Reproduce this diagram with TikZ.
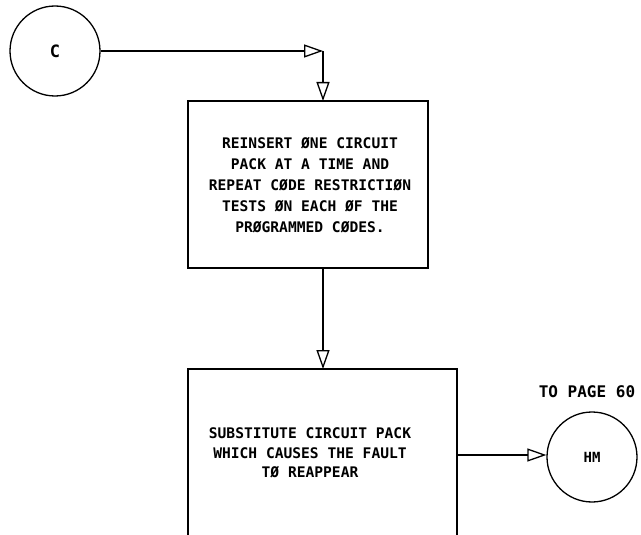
\documentclass[tikz,border=0pt]{standalone}
\usepackage{fontspec}
\setmainfont{DejaVu Sans Mono}
\usetikzlibrary{arrows.meta}
\begin{document}
\begin{tikzpicture}[x=1pt,y=-1pt,
  line width=1.3pt,
  flow/.style={draw, -{Triangle[open,length=19pt,width=13pt,line width=1.3pt]}},
  conn/.style={draw, circle, minimum size=90pt, inner sep=0pt, font=\bfseries\fontsize{14}{16}\selectfont},
  txt/.style={align=center, font=\bfseries\fontsize{14.6}{21}\selectfont},
  box/.style={draw}]
\useasboundingbox (0,0) rectangle (641,535);
\clip (0,0) rectangle (641,535);
\node[conn, font=\bfseries\fontsize{17}{18}\selectfont] (c) at (55,51) {C};
\coordinate (corner) at (323,51);
\draw[box] (188,101) rectangle (428,268);
\coordinate (b1top) at (323,101);
\coordinate (b1bot) at (323,268);
\node[txt] (t1) at (310,185) {REINSERT ØNE CIRCUIT\\PACK AT A TIME AND\\REPEAT CØDE RESTRICTIØN\\TESTS ØN EACH ØF THE\\PRØGRAMMED CØDES.};
\draw[box] (188,369) rectangle (457,545);
\coordinate (b2top) at (323,369);
\coordinate (b2right) at (457,455);
\node[txt, font=\bfseries\fontsize{14.6}{19.5}\selectfont] (t2) at (310,453) {SUBSTITUTE CIRCUIT PACK\\WHICH CAUSES THE FAULT\\TØ REAPPEAR};
\node[conn] (hm) at (592,457) {HM};
\node[font=\bfseries\fontsize{16}{18}\selectfont] (pg) at (587,392) {TO PAGE 60};
\draw[flow] (c.east) -- (corner);
\draw[flow] (corner) -- (b1top);
\draw[flow] (b1bot) -- (b2top);
\draw[flow] (b2right) -- (hm.west |- b2right);
\end{tikzpicture}
\end{document}
